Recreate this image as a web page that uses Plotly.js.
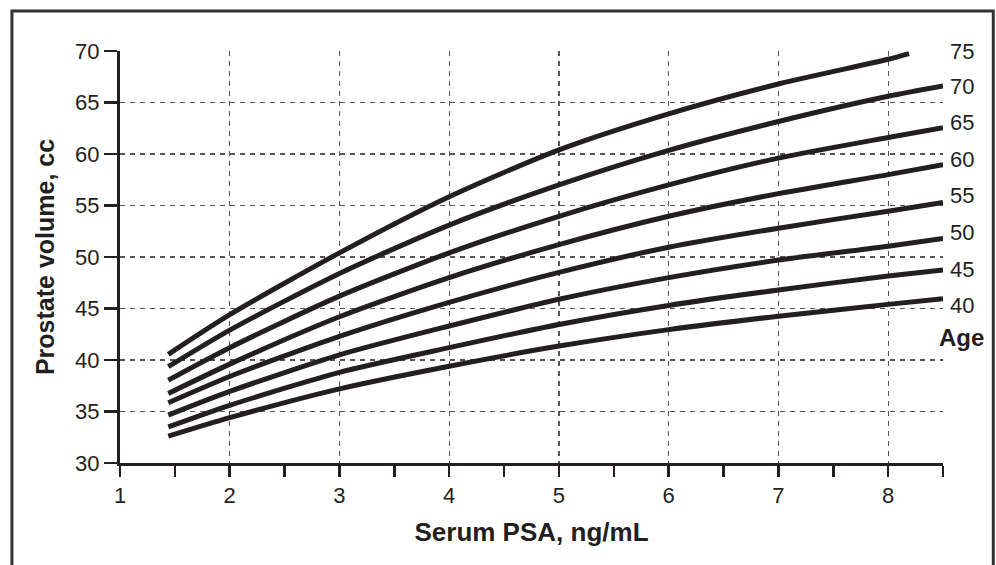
<!DOCTYPE html>
<html>
<head>
<meta charset="utf-8">
<script src="https://cdn.plot.ly/plotly-3.0.1.min.js"></script>
<style>
  html, body { margin: 0; padding: 0; background: #ffffff; }
  #chart { width: 996px; height: 565px; }
</style>
</head>
<body>
<div id="chart"></div>
<script>
// Serum PSA (ng/mL) sample points
var psa = [1.44, 2, 3, 4, 5, 6, 7, 8, 8.5];
var psa75 = [1.44, 2, 3, 4, 5, 6, 7, 8, 8.19];

// Prostate volume (cc) by age group
var ages = ["75", "70", "65", "60", "55", "50", "45", "40"];
var vol75 = [40.55, 44.4, 50.4, 55.85, 60.4, 63.9, 66.8, 69.2, 69.75];
var vol70 = [39.35, 42.9, 48.4, 53.1, 57.0, 60.35, 63.15, 65.6, 66.6];
var vol65 = [38.05, 41.2, 46.2, 50.4, 53.95, 57.0, 59.6, 61.6, 62.55];
var vol60 = [36.75, 39.6, 44.2, 48.0, 51.2, 53.95, 56.15, 58.0, 58.97];
var vol55 = [35.85, 38.4, 42.3, 45.6, 48.5, 50.95, 52.8, 54.45, 55.3];
var vol50 = [34.65, 36.95, 40.5, 43.3, 45.9, 48.0, 49.7, 51.05, 51.8];
var vol45 = [33.5, 35.6, 38.8, 41.2, 43.45, 45.3, 46.8, 48.15, 48.75];
var vol40 = [32.6, 34.4, 37.2, 39.4, 41.35, 42.95, 44.25, 45.4, 45.95];

// Vertical positions of the age labels at the right edge
var labelY = [70.0, 66.6, 63.1, 59.5, 56.0, 52.4, 48.8, 45.3];
var ageTitleY = 42.2;

var series = [vol75, vol70, vol65, vol60, vol55, vol50, vol45, vol40];
var ink = "#231f20";

var traces = series.map(function (v, i) {
  return {
    type: "scatter",
    mode: "lines",
    name: ages[i],
    x: i === 0 ? psa75 : psa,
    y: v,
    line: { color: ink, width: 5, shape: "spline", smoothing: 0.7 },
    hoverinfo: "x+y+name",
    showlegend: false
  };
});

var annotations = ages.map(function (a, i) {
  return {
    x: 8.5, y: labelY[i], xref: "x", yref: "y",
    text: a, showarrow: false, xanchor: "left", yanchor: "middle",
    xshift: 5,
    font: { family: "Liberation Sans, Arial, sans-serif", size: 22, color: ink }
  };
});
annotations.push({
  x: 8.5, y: ageTitleY, xref: "x", yref: "y",
  text: "<b>Age</b>", showarrow: false, xanchor: "center", yanchor: "middle",
  xshift: 18,
  font: { family: "Liberation Sans, Arial, sans-serif", size: 24, color: ink }
});

var layout = {
  width: 996, height: 565,
  margin: { l: 120, r: 53, t: 51, b: 102 },
  paper_bgcolor: "#ffffff",
  plot_bgcolor: "#ffffff",
  font: { family: "Liberation Sans, Arial, sans-serif", color: ink },
  xaxis: {
    range: [1, 8.5],
    dtick: 1, tick0: 1,
    ticks: "outside", ticklen: 11, tickwidth: 2.5, tickcolor: ink,
    showline: true, linecolor: ink, linewidth: 3,
    showgrid: true, gridcolor: "#555555", gridwidth: 1.2, griddash: "5px,5px",
    zeroline: false,
    tickfont: { size: 22, color: ink },
    minor: { dtick: 0.5, tick0: 1, ticks: "outside", ticklen: 11, tickwidth: 2.5, tickcolor: ink, showgrid: false },
    title: { text: "<b>Serum PSA, ng/mL</b>", font: { size: 26, color: ink }, standoff: 16 }
  },
  yaxis: {
    range: [30, 70],
    dtick: 5, tick0: 30,
    ticks: "outside", ticklen: 13, tickwidth: 2.5, tickcolor: ink,
    showline: true, linecolor: ink, linewidth: 3,
    showgrid: true, gridcolor: "#555555", gridwidth: 1.2, griddash: "5px,5px",
    zeroline: false,
    tickfont: { size: 22, color: ink },
    title: { text: "<b>Prostate volume, cc</b>", font: { size: 25, color: ink }, standoff: 14 }
  },
  shapes: [{
    type: "rect", xref: "paper", yref: "paper",
    x0: -0.1313, x1: 1.0611, y0: -0.30, y1: 1.0972,
    line: { color: "#333333", width: 3 },
    fillcolor: "rgba(0,0,0,0)",
    layer: "above"
  }],
  annotations: annotations,
  showlegend: false
};

Plotly.newPlot("chart", traces, layout, { displayModeBar: false, staticPlot: true });
</script>
</body>
</html>
